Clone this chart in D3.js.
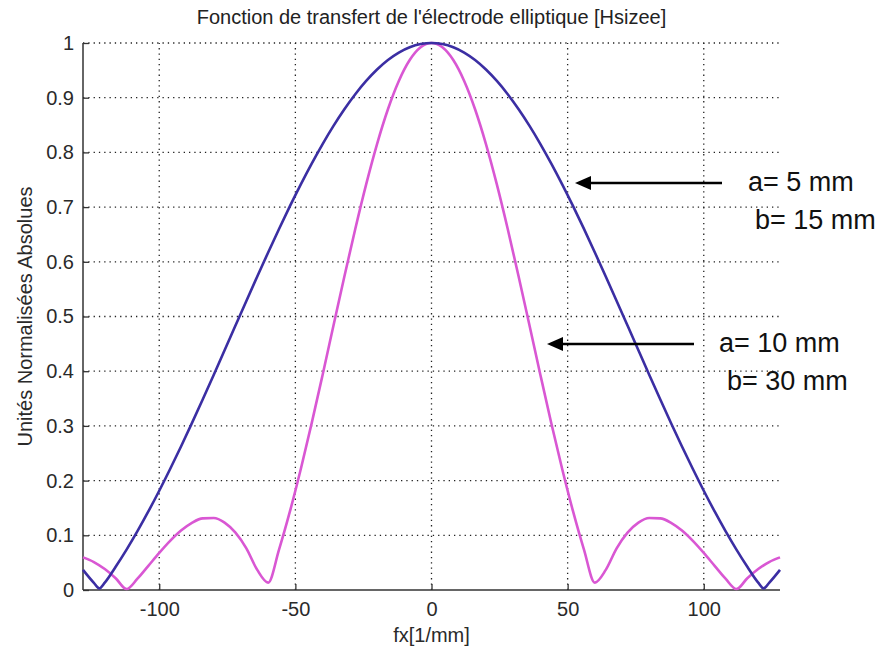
<!DOCTYPE html>
<html>
<head>
<meta charset="utf-8">
<script src="https://cdn.jsdelivr.net/npm/d3@7"></script>
<style>
  body { margin: 0; background: #fff; }
  text { font-family: "Liberation Sans", Arial, sans-serif; }
</style>
</head>
<body>
<div id="chart"></div>
<script>
// spatial frequency samples (1/mm)
const fx = [-128, -124, -120, -116, -112, -108, -104, -100, -96, -92, -88, -84, -80, -76, -72, -68,
            -64, -60, -56, -52, -48, -44, -40, -36, -32, -28, -24, -20, -16, -12, -8, -4,
            0, 4, 8, 12, 16, 20, 24, 28, 32, 36, 40, 44, 48, 52, 56, 60,
            64, 68, 72, 76, 80, 84, 88, 92, 96, 100, 104, 108, 112, 116, 120, 124, 128];

// a = 5 mm, b = 15 mm (blue)
const fxSmall = [-128, -124, -122, -120, -116, -112, -108, -104, -100, -96, -92, -88, -84, -80, -76, -72, -68,
            -64, -60, -56, -52, -48, -44, -40, -36, -32, -28, -24, -20, -16, -12, -8, -4,
            0, 4, 8, 12, 16, 20, 24, 28, 32, 36, 40, 44, 48, 52, 56, 60,
            64, 68, 72, 76, 80, 84, 88, 92, 96, 100, 104, 108, 112, 116, 120, 122, 124, 128];
const hSmall = [0.0367, 0.0130, 0.003, 0.0135, 0.0425, 0.0739, 0.1076, 0.1436, 0.1815, 0.2212, 0.2624, 0.3050, 0.3487,
            0.3932, 0.4382, 0.4834, 0.5285, 0.5732, 0.6171, 0.6601, 0.7017, 0.7416, 0.7795, 0.8153, 0.8485,
            0.8789, 0.9064, 0.9306, 0.9515, 0.9688, 0.9824, 0.9921, 0.9980,
            1, 0.9980, 0.9921, 0.9824, 0.9688, 0.9515, 0.9306, 0.9064, 0.8789, 0.8485, 0.8153, 0.7795,
            0.7416, 0.7017, 0.6601, 0.6171, 0.5732, 0.5285, 0.4834, 0.4382, 0.3932, 0.3487, 0.3050,
            0.2624, 0.2212, 0.1815, 0.1436, 0.1076, 0.0739, 0.0425, 0.0135, 0.003, 0.0130, 0.0367];

// a = 10 mm, b = 30 mm (magenta)
const hLarge = [0.0597, 0.0511, 0.0383, 0.0216, 0.0017, 0.0207, 0.0442, 0.0678, 0.0898, 0.1087, 0.1229,
            0.1310, 0.1315, 0.1231, 0.1048, 0.0761, 0.0367, 0.0135, 0.0739, 0.1436, 0.2212, 0.3050,
            0.3932, 0.4834, 0.5732, 0.6601, 0.7416, 0.8153, 0.8789, 0.9306, 0.9688, 0.9921,
            1, 0.9921, 0.9688, 0.9306, 0.8789, 0.8153, 0.7416, 0.6601, 0.5732, 0.4834, 0.3932,
            0.3050, 0.2212, 0.1436, 0.0739, 0.0135, 0.0367, 0.0761, 0.1048, 0.1231, 0.1315, 0.1310,
            0.1229, 0.1087, 0.0898, 0.0678, 0.0442, 0.0207, 0.0017, 0.0216, 0.0383, 0.0511, 0.0597];

const xTicks = [-100, -50, 0, 50, 100];
const xTickLabels = ["-100", "-50", "0", "50", "100"];
const yTicks = [0, 0.1, 0.2, 0.3, 0.4, 0.5, 0.6, 0.7, 0.8, 0.9, 1];
const yTickLabels = ["0", "0.1", "0.2", "0.3", "0.4", "0.5", "0.6", "0.7", "0.8", "0.9", "1"];

const width = 890, height = 652;
const margin = { top: 43, right: 110, bottom: 62, left: 83 };

const svg = d3.select("#chart").append("svg")
    .attr("width", width)
    .attr("height", height);

const x = d3.scaleLinear().domain([-128, 128]).range([margin.left, width - margin.right]);
const y = d3.scaleLinear().domain([0, 1]).range([height - margin.bottom, margin.top]);

// dotted grid
svg.append("g").selectAll("line")
    .data(xTicks)
    .join("line")
        .attr("x1", d => x(d)).attr("x2", d => x(d))
        .attr("y1", y(0)).attr("y2", y(1))
        .attr("stroke", "#222")
        .attr("stroke-width", 1.3)
        .attr("stroke-dasharray", "1.3,4");

svg.append("g").selectAll("line")
    .data(yTicks.slice(1))
    .join("line")
        .attr("x1", x(-128)).attr("x2", x(128))
        .attr("y1", d => y(d)).attr("y2", d => y(d))
        .attr("stroke", "#222")
        .attr("stroke-width", 1.3)
        .attr("stroke-dasharray", "1.3,4");

// axes
const xAxis = d3.axisBottom(x).tickValues(xTicks).tickSize(-6).tickPadding(12)
    .tickFormat((d, i) => xTickLabels[i]);
const yAxis = d3.axisLeft(y).tickValues(yTicks).tickSize(-6).tickPadding(9)
    .tickFormat((d, i) => yTickLabels[i]);

const gx = svg.append("g")
    .attr("transform", `translate(0,${y(0)})`)
    .call(xAxis);
const gy = svg.append("g")
    .attr("transform", `translate(${x(-128)},0)`)
    .call(yAxis);

[gx, gy].forEach(g => {
    g.select(".domain").attr("stroke", "#333").attr("stroke-width", 1.5);
    g.selectAll(".tick line").attr("stroke", "#333").attr("stroke-width", 1.3);
    g.selectAll(".tick text")
        .style("font-family", "Liberation Sans, Arial, sans-serif")
        .style("font-size", "20px")
        .attr("fill", "#2a2a2a");
});
gx.select(".domain").attr("d", `M${x(-128)},0H${x(128)}`);
gy.select(".domain").attr("d", `M0,${y(0)}V${y(1)}`);

// curves
const line = d3.line().curve(d3.curveMonotoneX);

svg.append("path")
    .datum(fx.map((f, i) => [x(f), y(hLarge[i])]))
    .attr("fill", "none")
    .attr("stroke", "#d957d3")
    .attr("stroke-width", 2.6)
    .attr("d", line);

svg.append("path")
    .datum(fxSmall.map((f, i) => [x(f), y(hSmall[i])]))
    .attr("fill", "none")
    .attr("stroke", "#3b2ea3")
    .attr("stroke-width", 2.6)
    .attr("d", line);

// title and axis labels
svg.append("text")
    .attr("x", x(0))
    .attr("y", 24)
    .attr("text-anchor", "middle")
    .style("font-size", "20px")
    .attr("fill", "#222")
    .text("Fonction de transfert de l'électrode elliptique [Hsizee]");

svg.append("text")
    .attr("x", x(0))
    .attr("y", 642)
    .attr("text-anchor", "middle")
    .style("font-size", "20px")
    .attr("fill", "#2a2a2a")
    .text("fx[1/mm]");

svg.append("text")
    .attr("transform", `translate(32,${y(0.5)}) rotate(-90)`)
    .attr("text-anchor", "middle")
    .style("font-size", "20px")
    .attr("fill", "#2a2a2a")
    .text("Unités Normalisées Absolues");

// annotations
function arrow(x1, x2, yy) {
    svg.append("line")
        .attr("x1", x1).attr("x2", x2 + 14)
        .attr("y1", yy).attr("y2", yy)
        .attr("stroke", "#000")
        .attr("stroke-width", 2.4);
    svg.append("path")
        .attr("d", `M${x2},${yy}L${x2 + 16},${yy - 7}L${x2 + 16},${yy + 7}Z`)
        .attr("fill", "#000");
}
arrow(722, 575, 183);
arrow(694, 547, 344);

const note = svg.append("g")
    .style("font-family", "Lato, 'Open Sans', sans-serif")
    .style("font-size", "27px")
    .attr("fill", "#111");
note.append("text").attr("x", 748).attr("y", 191).text("a= 5 mm");
note.append("text").attr("x", 755).attr("y", 229).text("b= 15 mm");
note.append("text").attr("x", 719).attr("y", 352).text("a= 10 mm");
note.append("text").attr("x", 727).attr("y", 390).text("b= 30 mm");
</script>
</body>
</html>
